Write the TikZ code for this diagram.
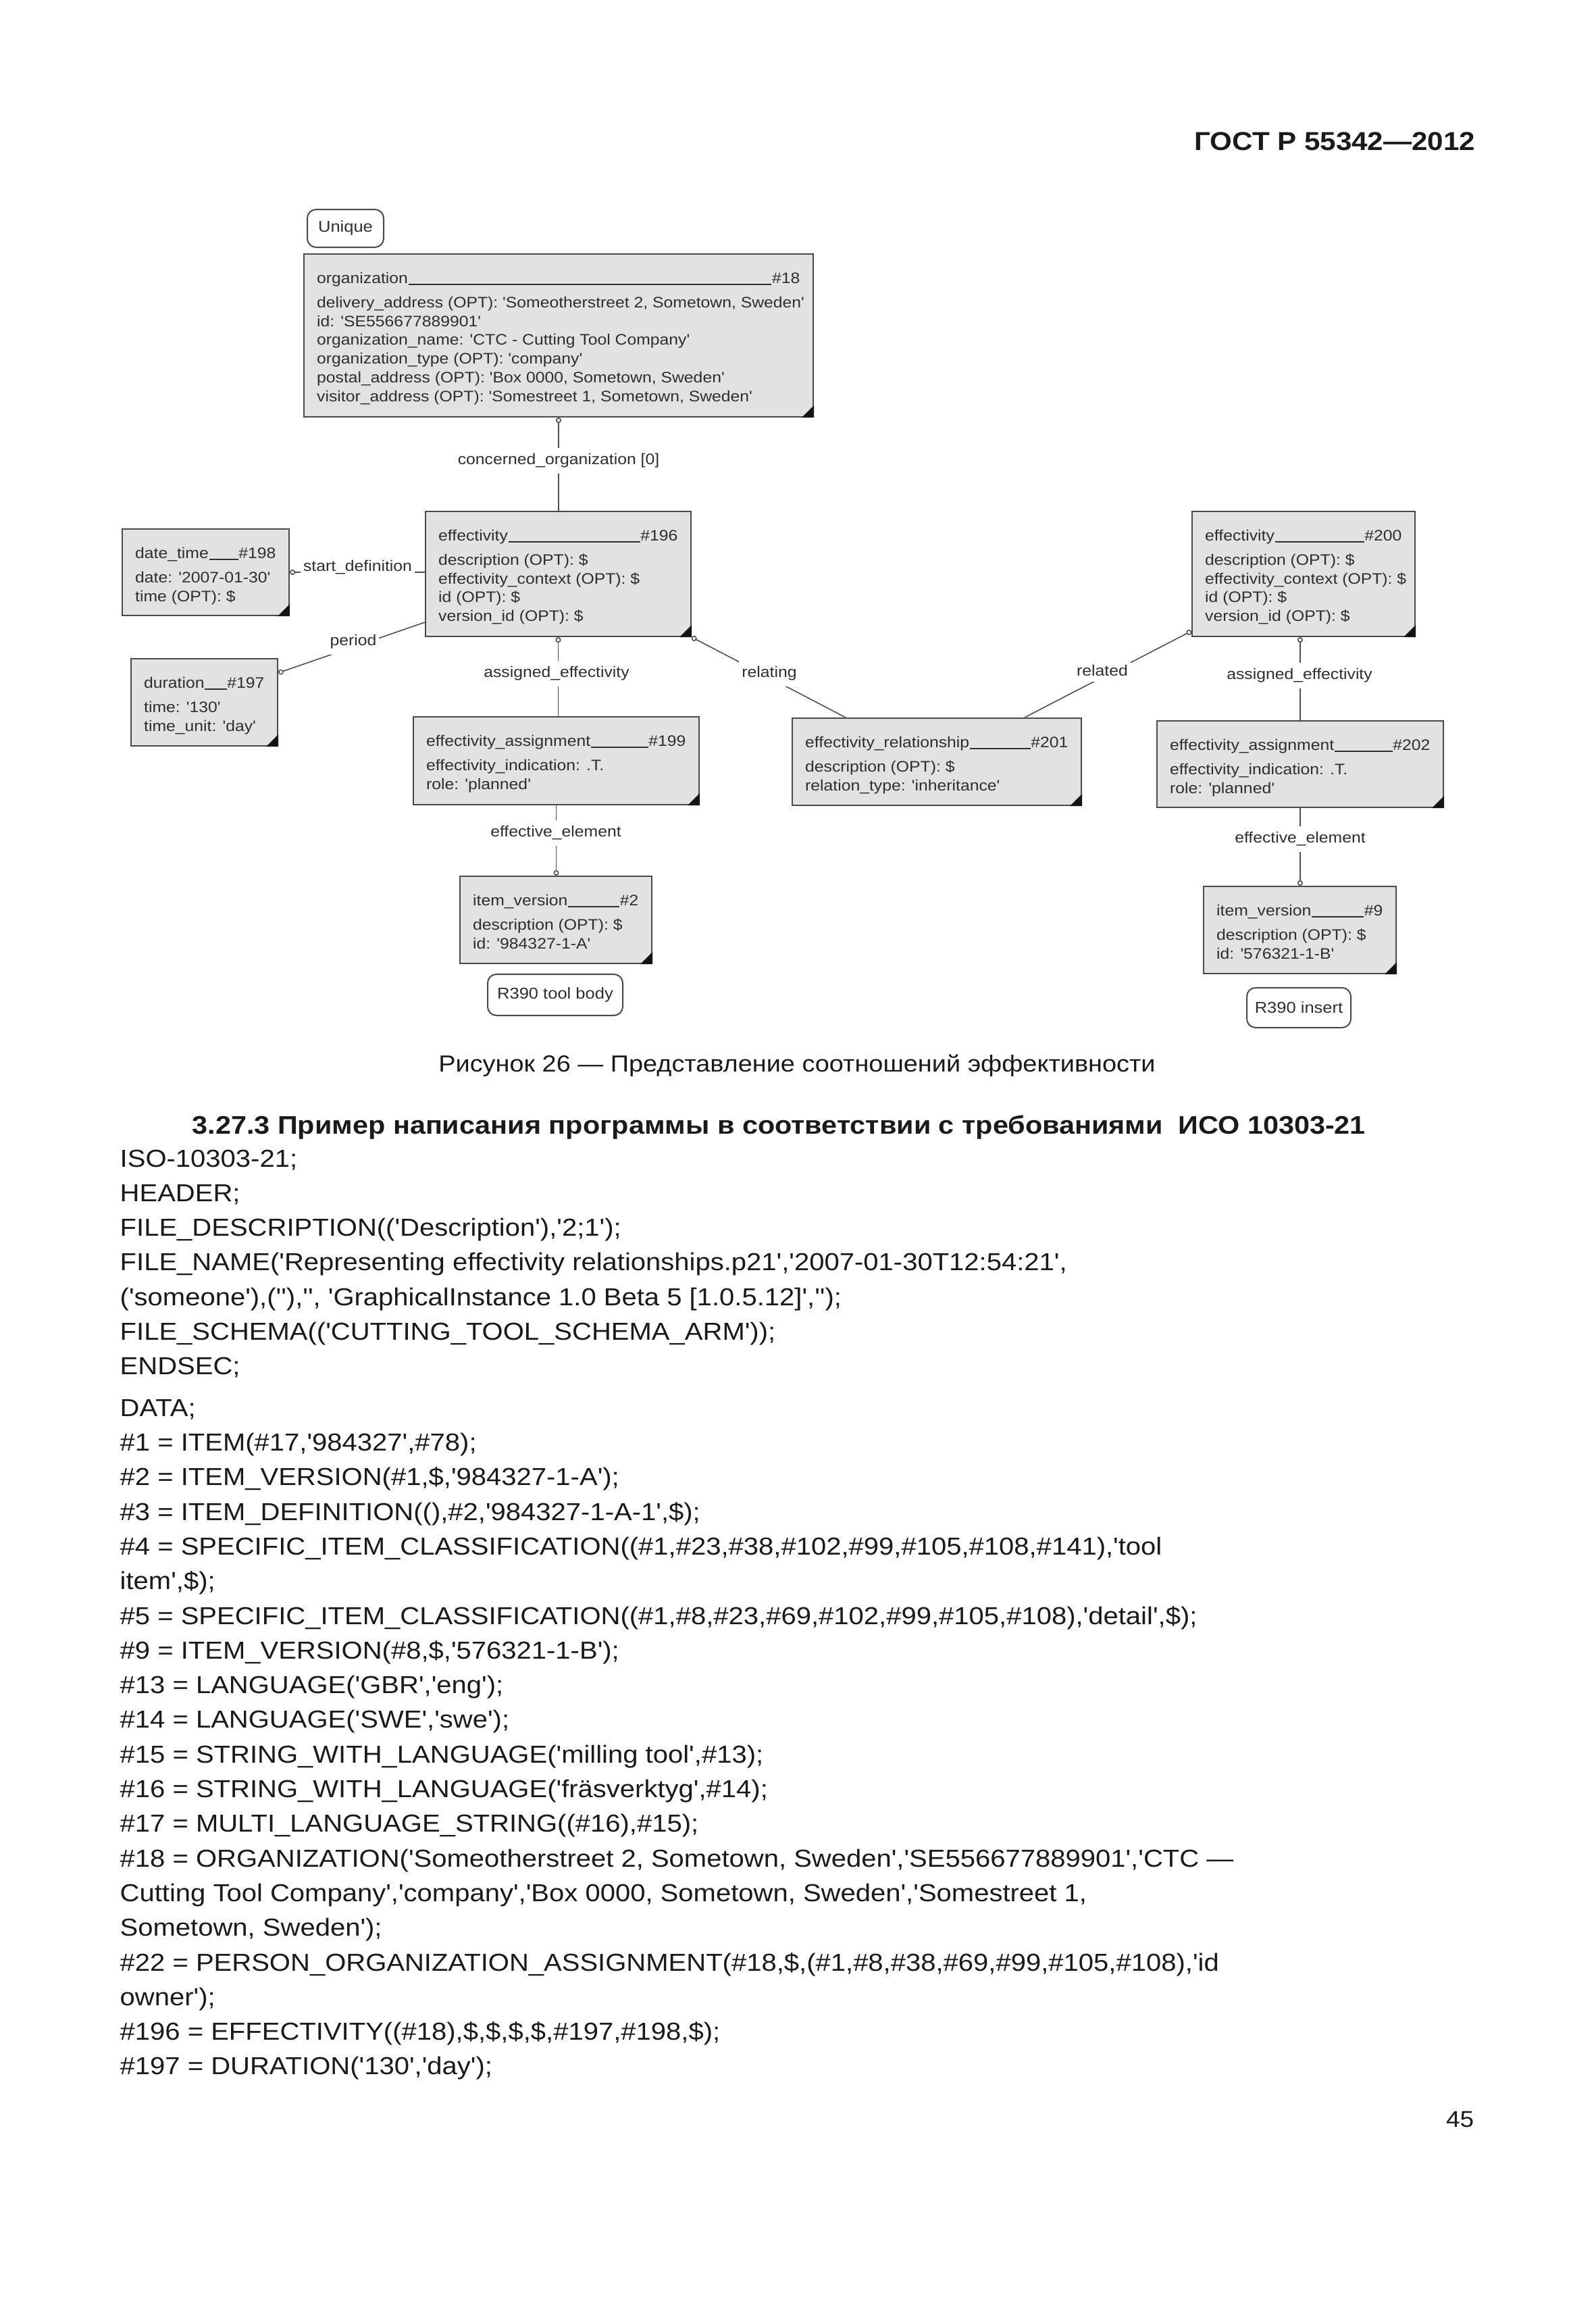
\documentclass[tikz,border=0pt]{standalone}
\usepackage{fontspec}
\newfontfamily\dfont[FakeStretch=1.1]{Liberation Sans}
\newfontfamily\bfont[FakeStretch=1.1]{Liberation Sans}
\usetikzlibrary{fit,arrows.meta}
\definecolor{boxfill}{HTML}{E2E2E2}
\definecolor{boxline}{HTML}{4A4A4A}
\definecolor{dtext}{HTML}{2E2E2E}
\definecolor{cline}{HTML}{505050}
\definecolor{btext}{HTML}{1A1A1A}
\tikzset{
  ebox/.style={inner sep=0pt, draw=boxline, fill=boxfill, line width=0.22mm},
  rbox/.style={draw=boxline, fill=white, line width=0.2mm, rounded corners=1.3mm, inner sep=0pt,
    font=\dfont\fontsize{6.6}{8}\selectfont, text=dtext},
  dtx/.style={inner sep=0pt, font=\dfont\fontsize{6.4}{7.5}\selectfont, text=dtext},
  tl/.style={dtx, anchor=base west},
  tr/.style={dtx, anchor=base east},
  uline/.style={draw=dtext, line width=0.12mm},
  conn/.style={draw=cline, line width=0.16mm},
  clab/.style={dtx, fill=white, inner xsep=0.4mm, inner ysep=0.9mm},
  bodyline/.style={inner sep=0pt, anchor=base west, text=btext, font=\bfont\fontsize{10.35}{12}\selectfont},
  headline/.style={inner sep=0pt, anchor=base west, text=btext, font=\bfont\bfseries\fontsize{10.7}{12}\selectfont},
  captxt/.style={inner sep=0pt, anchor=base, text=btext, font=\bfont\fontsize{9.8}{12}\selectfont},
  gosttxt/.style={inner sep=0pt, anchor=base east, text=btext, font=\bfont\bfseries\fontsize{10.9}{13}\selectfont},
  pagenum/.style={inner sep=0pt, anchor=base east, text=btext, font=\bfont\fontsize{9.6}{12}\selectfont}
}
\newcommand{\entity}[7]{%
  \node[ebox, fit={(#2,#3) (#4,#5)}] (#1) {};
  \fill[black!92] (#1.south east) -- ++(-1.8,0) -- ++(1.8,-1.8) -- cycle;
  \node[tl] (#1-t) at ({#2+1.85},{#3+4.35}) {#6};
  \node[tr] (#1-n) at ({#4-1.9},{#3+4.35}) {#7};
  \draw[uline] ([yshift=-0.15mm]#1-t.base east) -- ([yshift=-0.15mm]#1-n.base west);
}
\newcommand{\attrs}[4]{%
  \foreach \attxt [count=\i] in {#4} {
    \node[tl] (#1-a\i) at ({#2+1.85},{#3+7.95+(\i-1)*2.77}) {\attxt};
  }
}
\begin{document}
\begin{tikzpicture}[x=1mm,y=-1mm]
\useasboundingbox (0,0) rectangle (236.2,342.5);
\fill[white] (0,0) rectangle (236.2,342.5);

\node[gosttxt] (gost) at (218.5,22.2) {ГОСТ Р 55342—2012};

% ---------- diagram ----------
\node[rbox, minimum width=11.3mm, minimum height=5.6mm] (unique) at (51.15,33.8) {Unique};

\entity{org}{45.0}{37.6}{120.4}{61.7}{organization}{\#18}
\attrs{org}{45.0}{37.6}{{delivery\_address (OPT): 'Someotherstreet 2, Sometown, Sweden'},{id: 'SE556677889901'},{organization\_name: 'CTC - Cutting Tool Company'},{organization\_type (OPT): 'company'},{postal\_address (OPT): 'Box 0000, Sometown, Sweden'},{visitor\_address (OPT): 'Somestreet 1, Sometown, Sweden'}}

\entity{effa}{63.0}{75.7}{102.3}{94.2}{effectivity}{\#196}
\attrs{effa}{63.0}{75.7}{{description (OPT): \$},{effectivity\_context (OPT): \$},{id (OPT): \$},{version\_id (OPT): \$}}

\entity{dt}{18.1}{78.3}{42.8}{91.1}{date\_time}{\#198}
\attrs{dt}{18.1}{78.3}{{date: '2007-01-30'},{time (OPT): \$}}

\entity{dur}{19.4}{97.5}{41.1}{110.4}{duration}{\#197}
\attrs{dur}{19.4}{97.5}{{time: '130'},{time\_unit: 'day'}}

\entity{effb}{176.5}{75.7}{209.5}{94.2}{effectivity}{\#200}
\attrs{effb}{176.5}{75.7}{{description (OPT): \$},{effectivity\_context (OPT): \$},{id (OPT): \$},{version\_id (OPT): \$}}

\entity{eaa}{61.2}{106.1}{103.5}{119.1}{effectivity\_assignment}{\#199}
\attrs{eaa}{61.2}{106.1}{{effectivity\_indication: .T.},{role: 'planned'}}

\entity{er}{117.3}{106.3}{160.1}{119.2}{effectivity\_relationship}{\#201}
\attrs{er}{117.3}{106.3}{{description (OPT): \$},{relation\_type: 'inheritance'}}

\entity{eab}{171.3}{106.7}{213.7}{119.5}{effectivity\_assignment}{\#202}
\attrs{eab}{171.3}{106.7}{{effectivity\_indication: .T.},{role: 'planned'}}

\entity{iva}{68.1}{129.7}{96.5}{142.6}{item\_version}{\#2}
\attrs{iva}{68.1}{129.7}{{description (OPT): \$},{id: '984327-1-A'}}

\entity{ivb}{178.2}{131.2}{206.7}{144.1}{item\_version}{\#9}
\attrs{ivb}{178.2}{131.2}{{description (OPT): \$},{id: '576321-1-B'}}

\node[rbox, minimum width=20.0mm, minimum height=6.1mm] (toolbody) at (82.2,147.25) {R390 tool body};
\node[rbox, minimum width=15.4mm, minimum height=5.9mm] (insert) at (192.3,149.15) {R390 insert};

% connectors
\draw[conn, {Circle[open,length=0.8mm]}-] (org.south) -- (org.south |- effa.north);
\draw[conn, {Circle[open,length=0.8mm]}-] (dt.east) -- (dt.east -| effa.west);
\draw[conn, -{Circle[open,length=0.8mm]}] ([yshift=2.2mm]effa.south west) -- ([yshift=-2.2mm]dur.north east);
\draw[conn, {Circle[open,length=0.8mm]}-] (effa.south) -- (effa.south |- eaa.north);
\draw[conn, -{Circle[open,length=0.8mm]}] ([xshift=8mm]er.north west) -- (effa.south east);
\draw[conn, -{Circle[open,length=0.8mm]}] ([xshift=-8.5mm]er.north east) -- ([yshift=0.9mm]effb.south west);
\draw[conn, {Circle[open,length=0.8mm]}-] (eab.north |- effb.south) -- (eab.north);
\draw[conn, -{Circle[open,length=0.8mm]}] (eaa.south) -- (eaa.south |- iva.north);
\draw[conn, -{Circle[open,length=0.8mm]}] (eab.south) -- (eab.south |- ivb.north);

\node[clab] (l-co) at (82.7,68.2) {concerned\_organization [0]};
\node[clab] (l-sd) at (52.95,84.0) {start\_definition};
\node[clab] (l-pe) at (52.3,95.0) {period};
\node[clab] (l-aea) at (82.4,99.7) {assigned\_effectivity};
\node[clab] (l-rg) at (113.9,99.7) {relating};
\node[clab] (l-rd) at (163.2,99.2) {related};
\node[clab] (l-aeb) at (192.4,100.0) {assigned\_effectivity};
\node[clab] (l-eea) at (82.3,123.3) {effective\_element};
\node[clab] (l-eeb) at (192.5,124.2) {effective\_element};

% ---------- text ----------
\node[captxt] (caption) at (118.0,158.6) {Рисунок 26 — Представление соотношений эффективности};

\node[headline] (heading) at (28.4,167.8) {3.27.3 Пример написания программы в соответствии с требованиями\ \ ИСО 10303-21};

\foreach \ln [count=\i] in {
  {ISO-10303-21;},
  {HEADER;},
  {FILE\_DESCRIPTION(('Description'),'2;1');},
  {FILE\_NAME('Representing effectivity relationships.p21','2007-01-30T12:54:21',},
  {('someone'),(''),'', 'GraphicalInstance 1.0 Beta 5 [1.0.5.12]','');},
  {FILE\_SCHEMA(('CUTTING\_TOOL\_SCHEMA\_ARM'));},
  {ENDSEC;}}
{
  \node[bodyline] (h\i) at (17.7,{172.7+(\i-1)*5.13}) {\ln};
}

\foreach \ln [count=\i] in {
  {DATA;},
  {\#1 = ITEM(\#17,'984327',\#78);},
  {\#2 = ITEM\_VERSION(\#1,\$,'984327-1-A');},
  {\#3 = ITEM\_DEFINITION((),\#2,'984327-1-A-1',\$);},
  {\#4 = SPECIFIC\_ITEM\_CLASSIFICATION((\#1,\#23,\#38,\#102,\#99,\#105,\#108,\#141),'tool},
  {item',\$);},
  {\#5 = SPECIFIC\_ITEM\_CLASSIFICATION((\#1,\#8,\#23,\#69,\#102,\#99,\#105,\#108),'detail',\$);},
  {\#9 = ITEM\_VERSION(\#8,\$,'576321-1-B');},
  {\#13 = LANGUAGE('GBR','eng');},
  {\#14 = LANGUAGE('SWE','swe');},
  {\#15 = STRING\_WITH\_LANGUAGE('milling tool',\#13);},
  {\#16 = STRING\_WITH\_LANGUAGE('fräsverktyg',\#14);},
  {\#17 = MULTI\_LANGUAGE\_STRING((\#16),\#15);},
  {\#18 = ORGANIZATION('Someotherstreet 2, Sometown, Sweden','SE556677889901','CTC —},
  {Cutting Tool Company','company','Box 0000, Sometown, Sweden','Somestreet 1,},
  {Sometown, Sweden');},
  {\#22 = PERSON\_ORGANIZATION\_ASSIGNMENT(\#18,\$,(\#1,\#8,\#38,\#69,\#99,\#105,\#108),'id},
  {owner');},
  {\#196 = EFFECTIVITY((\#18),\$,\$,\$,\$,\#197,\#198,\$);},
  {\#197 = DURATION('130','day');}}
{
  \node[bodyline] (d\i) at (17.7,{209.62+(\i-1)*5.13}) {\ln};
}

\node[pagenum] (pg) at (218.3,314.8) {45};
\end{tikzpicture}
\end{document}
